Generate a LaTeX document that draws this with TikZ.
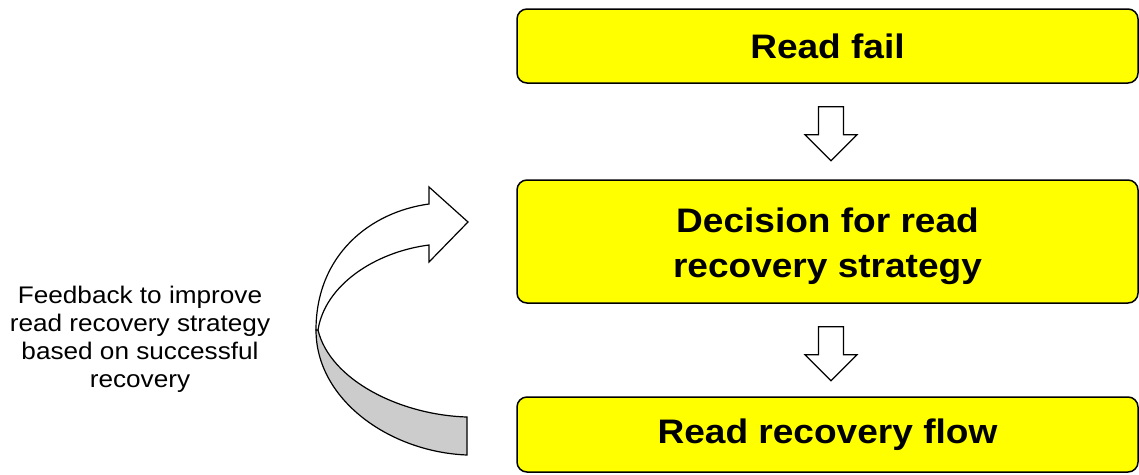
\documentclass[tikz,border=0pt]{standalone}
\usepackage{fontspec}
\setmainfont{Liberation Sans}[FakeStretch=1.09]
\usetikzlibrary{calc}

\definecolor{boxyellow}{RGB}{255,255,0}
\definecolor{backgrey}{RGB}{204,204,204}

\tikzset{
  stepbox/.style={draw=black, line width=1.5pt, fill=boxyellow,
    rounded corners=10pt, minimum width=621pt, inner sep=0pt,
    align=center, font=\fontsize{34}{45}\selectfont\bfseries},
  arrowline/.style={draw=black, line width=1.2pt, fill=white, line join=miter},
  note/.style={align=center, font=\fontsize{24}{28}\selectfont, inner sep=0pt},
  blockdown/.pic={
    \draw[arrowline] (-12.5,0) -- (12.5,0) -- (12.5,28) -- (26,28)
      -- (0,54) -- (-26,28) -- (-12.5,28) -- cycle;
  }
}

\begin{document}
\begin{tikzpicture}[x=1pt, y=-1pt]
  \useasboundingbox (0,0) rectangle (1139,474);

  % process steps
  \node[stepbox, minimum height=74pt]  (fail)     at (827.5,46)    {Read fail};
  \node[stepbox, minimum height=123pt] (decision) at (827.5,241.5)
    {\rule{0pt}{33.5pt}Decision for read\\recovery strategy};
  \node[stepbox, minimum height=75pt]  (flow)     at (827.5,434.5) {Read recovery flow};

  % block arrows between the steps
  \pic at ($(fail.south)+(3.5,23)$) {blockdown};
  \pic at ($(decision.south)+(3.5,23)$) {blockdown};

  % curved feedback arrow: grey back part first
  \draw[arrowline, fill=backgrey]
    (316,330) .. controls (316,400) and (390,452) .. (467,455)
    -- (467,417)
    .. controls (400,415) and (330,380) .. (318,330) -- cycle;
  % white front part with the arrow head
  \draw[arrowline]
    (316,330) .. controls (316,255) and (370,212) .. (429,204)
    -- (429,187) -- (468,222) -- (429,262) -- (429,245)
    .. controls (375,252) and (325,285) .. (318,330) -- cycle;

  % feedback label
  \node[note] (feedback) at (140,339)
    {Feedback to improve\\read recovery strategy\\based on successful\\recovery};
\end{tikzpicture}
\end{document}
